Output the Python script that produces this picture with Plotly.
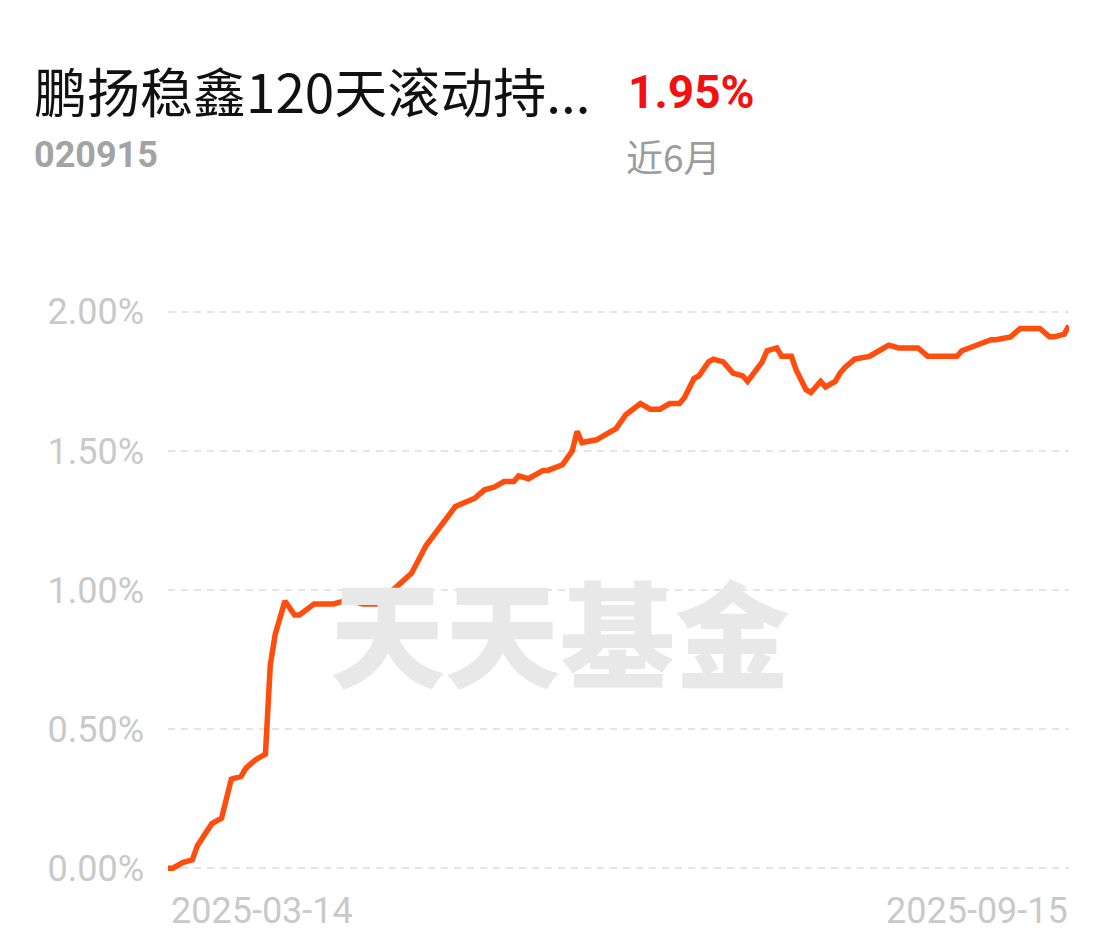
import plotly.graph_objects as go

# ---- data ----
dates = [
    "2025-03-14", "2025-03-15", "2025-03-17", "2025-03-19", "2025-03-20", "2025-03-23",
    "2025-03-25", "2025-03-27", "2025-03-29", "2025-03-30", "2025-04-01", "2025-04-03",
    "2025-04-04", "2025-04-05", "2025-04-07", "2025-04-09", "2025-04-10", "2025-04-13",
    "2025-04-17", "2025-04-19", "2025-04-21", "2025-04-23", "2025-04-26", "2025-04-30",
    "2025-05-03", "2025-05-06", "2025-05-09", "2025-05-12", "2025-05-16", "2025-05-18",
    "2025-05-20", "2025-05-22", "2025-05-24", "2025-05-25", "2025-05-27", "2025-05-28",
    "2025-05-30", "2025-05-31", "2025-06-03", "2025-06-05", "2025-06-06", "2025-06-07",
    "2025-06-09", "2025-06-10", "2025-06-12", "2025-06-14", "2025-06-16", "2025-06-19",
    "2025-06-21", "2025-06-23", "2025-06-25", "2025-06-27", "2025-06-28", "2025-06-30",
    "2025-07-01", "2025-07-03", "2025-07-04", "2025-07-06", "2025-07-08", "2025-07-10",
    "2025-07-11", "2025-07-13", "2025-07-14", "2025-07-15", "2025-07-17", "2025-07-18",
    "2025-07-20", "2025-07-21", "2025-07-23", "2025-07-24", "2025-07-26", "2025-07-27",
    "2025-07-29", "2025-07-30", "2025-07-31", "2025-08-02", "2025-08-04", "2025-08-05",
    "2025-08-07", "2025-08-09", "2025-08-11", "2025-08-15", "2025-08-17", "2025-08-23",
    "2025-08-24", "2025-08-30", "2025-08-31", "2025-09-02", "2025-09-03", "2025-09-05",
    "2025-09-09", "2025-09-11", "2025-09-12", "2025-09-14", "2025-09-15",
]
returns_pct = [
    0.00, 0.00, 0.02, 0.03, 0.08, 0.16,
    0.18, 0.32, 0.33, 0.36, 0.39, 0.41,
    0.73, 0.84, 0.96, 0.91, 0.91, 0.95,
    0.95, 0.96, 0.96, 0.95, 0.95, 1.01,
    1.06, 1.16, 1.23, 1.30, 1.33, 1.36,
    1.37, 1.39, 1.39, 1.41, 1.40, 1.41,
    1.43, 1.43, 1.45, 1.50, 1.57, 1.53,
    1.54, 1.54, 1.56, 1.58, 1.63, 1.67,
    1.65, 1.65, 1.67, 1.67, 1.69, 1.76,
    1.77, 1.82, 1.83, 1.82, 1.78, 1.77,
    1.75, 1.80, 1.82, 1.86, 1.87, 1.84,
    1.84, 1.79, 1.72, 1.71, 1.75, 1.73,
    1.75, 1.78, 1.80, 1.83, 1.84, 1.84,
    1.86, 1.88, 1.87, 1.87, 1.84, 1.84,
    1.86, 1.90, 1.90, 1.91, 1.91, 1.94,
    1.94, 1.91, 1.91, 1.92, 1.95,
]
y_ticks = [0.0, 0.5, 1.0, 1.5, 2.0]
y_tick_labels = ["0.00%", "0.50%", "1.00%", "1.50%", "2.00%"]
x_labels = ["2025-03-14", "2025-09-15"]

fund_name = "鹏扬稳鑫120天滚动持..."
fund_code = "020915"
period_return = "1.95%"
period_label = "近6月"
watermark = "天天基金"

# ---- figure geometry (page px; the page body adds an 8px offset) ----
OFF = 8
W, H = 1118 - OFF, 951 - OFF
L, R = 168, 1069          # plot area, page px
T, B = 284, 896

def px_x(p):
    return (p - L) / (R - L)

def px_y(p):
    return (B - p) / (B - T)

fig = go.Figure()

# watermark under the line (on an overlay axis pair)
fig.add_trace(go.Scatter(
    x=[px_x(560)], y=[px_y(650)], mode="text", text=[watermark],
    textfont=dict(family="Noto Sans CJK SC", size=115, color="#e8e8e8", weight=900),
    xaxis="x2", yaxis="y2", hoverinfo="skip", showlegend=False,
))

fig.add_trace(go.Scatter(
    x=dates, y=returns_pct, mode="lines",
    line=dict(color="#ff4d0d", width=5.5, shape="linear"),
    showlegend=False, hoverinfo="skip",
))

tick_font = dict(family="Roboto", size=36, color="#c9c9c9")

fig.update_layout(
    width=W, height=H,
    margin=dict(l=L - OFF, r=W - (R - OFF), t=T - OFF, b=H - (B - OFF), pad=0),
    paper_bgcolor="#ffffff", plot_bgcolor="#ffffff",
    xaxis=dict(
        type="date", range=[x_labels[0], x_labels[-1]],
        showgrid=False, zeroline=False, showline=False,
        showticklabels=False, ticks="",
    ),
    yaxis=dict(
        range=[-0.1, 2.1], tickvals=y_ticks, ticktext=y_tick_labels,
        showgrid=True, gridcolor="#e4e4e4", gridwidth=2, griddash="7px,6px",
        zeroline=False, showline=False, ticks="",
        tickfont=tick_font, ticklabelstandoff=23,
    ),
    xaxis2=dict(range=[0, 1], overlaying="x", visible=False, fixedrange=True),
    yaxis2=dict(range=[0, 1], overlaying="y", visible=False, fixedrange=True),
    font=dict(family="Roboto, Noto Sans CJK SC"),
)

annotations = [
    dict(text=fund_name, x=px_x(33), y=px_y(90), xanchor="left", yanchor="middle",
         font=dict(family="Noto Sans CJK SC", size=53, color="#111111")),
    dict(text=f"<b>{period_return}</b>", x=px_x(627), y=px_y(92), xanchor="left", yanchor="middle",
         font=dict(family="Roboto", size=46, color="#f21010")),
    dict(text=f"<b>{fund_code}</b>", x=px_x(33), y=px_y(155), xanchor="left", yanchor="middle",
         font=dict(family="Roboto", size=36, color="#a3a3a3")),
    dict(text=period_label, x=px_x(625), y=px_y(156), xanchor="left", yanchor="middle",
         font=dict(family="Noto Sans CJK SC", size=37, color="#9c9c9c")),
]
for a in annotations:
    a.update(xref="paper", yref="paper", showarrow=False, borderpad=0)

annotations += [
    dict(text=x_labels[0], x=x_labels[0], xref="x", y=px_y(911), yref="paper",
         xanchor="left", yanchor="middle", showarrow=False, borderpad=0, xshift=2,
         font=tick_font),
    dict(text=x_labels[-1], x=x_labels[-1], xref="x", y=px_y(911), yref="paper",
         xanchor="right", yanchor="middle", showarrow=False, borderpad=0,
         font=tick_font),
]
fig.update_layout(annotations=annotations)

fig.write_html("out.html")
